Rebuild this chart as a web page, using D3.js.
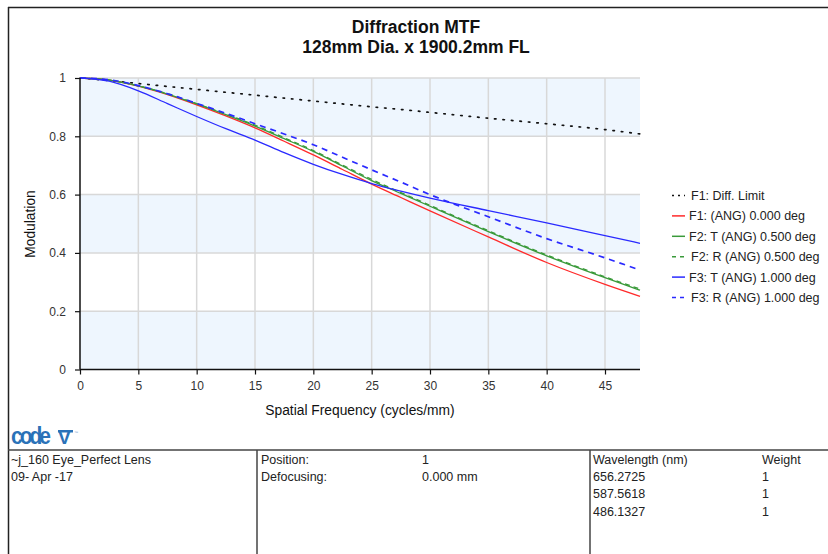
<!DOCTYPE html>
<html>
<head>
<meta charset="utf-8">
<script src="https://cdn.jsdelivr.net/npm/d3@7"></script>
<style>
  body { margin: 0; background: #fff; }
  text { font-family: "Liberation Sans", Arial, sans-serif; }
</style>
</head>
<body>
<svg id="chart" width="828" height="554"></svg>
<script>
// spatial frequency samples (cycles/mm)
var freqs = [0, 2.5, 5, 7.5, 10, 12.5, 15, 17.5, 20, 22.5, 25, 27.5, 30, 35, 40, 45, 48];

// modulation values
var diffLimit = [1, 0.991, 0.981, 0.971, 0.961, 0.951, 0.941, 0.931, 0.921, 0.911, 0.901, 0.892, 0.882, 0.862, 0.843, 0.823, 0.808];
var f1Ang0    = [1, 0.993, 0.972, 0.943, 0.908, 0.870, 0.829, 0.783, 0.736, 0.686, 0.636, 0.590, 0.544, 0.455, 0.367, 0.292, 0.251];
var f2T05     = [1, 0.993, 0.973, 0.945, 0.911, 0.874, 0.835, 0.792, 0.748, 0.698, 0.648, 0.604, 0.560, 0.473, 0.390, 0.315, 0.272];
var f2R05     = [1, 0.993, 0.973, 0.946, 0.912, 0.876, 0.838, 0.795, 0.751, 0.701, 0.652, 0.607, 0.563, 0.476, 0.393, 0.318, 0.276];
var f3T10     = [1, 0.989, 0.956, 0.912, 0.868, 0.826, 0.787, 0.744, 0.704, 0.669, 0.638, 0.612, 0.588, 0.545, 0.503, 0.459, 0.433];
var f3R10     = [1, 0.994, 0.974, 0.946, 0.913, 0.879, 0.843, 0.808, 0.771, 0.728, 0.685, 0.643, 0.600, 0.524, 0.449, 0.383, 0.341];

var seriesNames = ["F1: Diff. Limit", "F1: (ANG) 0.000 deg", "F2: T (ANG) 0.500 deg",
                   "F2: R (ANG) 0.500 deg", "F3: T (ANG) 1.000 deg", "F3: R (ANG) 1.000 deg"];
var seriesValues = [diffLimit, f1Ang0, f2T05, f2R05, f3T10, f3R10];
var seriesColors = ["#111111", "#ff2a2a", "#3a9a3a", "#3a9a3a", "#2a2aff", "#2a2aff"];
var seriesDash = ["1.5,7", null, null, "5,4", null, "6,5"];
var seriesWidth = [1.7, 1.3, 1.3, 1.4, 1.3, 1.7];

var xTicks = [0, 5, 10, 15, 20, 25, 30, 35, 40, 45];
var yTicks = [0, 0.2, 0.4, 0.6, 0.8, 1];

var titleLines = ["Diffraction MTF", "128mm Dia. x 1900.2mm FL"];
var infoLeft = ["~j_160 Eye_Perfect Lens", "09- Apr -17"];
var infoMidLabels = ["Position:", "Defocusing:"];
var infoMidValues = ["1", "0.000 mm"];
var wavelengths = ["656.2725", "587.5618", "486.1327"];
var weights = ["1", "1", "1"];

var svg = d3.select("#chart");

// frame
svg.append("line").attr("x1", 8).attr("x2", 828).attr("y1", 7.5).attr("y2", 7.5)
    .attr("stroke", "#222").attr("stroke-width", 1.5);
svg.append("line").attr("x1", 8.5).attr("x2", 8.5).attr("y1", 7).attr("y2", 554)
    .attr("stroke", "#222").attr("stroke-width", 1.5);

// title
svg.append("g").selectAll("text").data(titleLines).enter().append("text")
    .attr("x", 416).attr("y", function (d, i) { return 33 + i * 20; })
    .attr("text-anchor", "middle").attr("font-size", "17.5px").attr("font-weight", "bold")
    .attr("fill", "#111").text(function (d) { return d; });

// scales
var x = d3.scaleLinear().domain([0, 48]).range([80, 640]);
var y = d3.scaleLinear().domain([0, 1]).range([369.5, 78]);

var plot = svg.append("g");

// alternating bands
var bands = d3.range(0, 1, 0.2);
plot.selectAll(".band").data(bands).enter().append("rect")
    .attr("x", x(0)).attr("width", x(48) - x(0))
    .attr("y", function (d) { return y(d + 0.2); })
    .attr("height", function (d) { return y(d) - y(d + 0.2); })
    .attr("fill", function (d, i) { return i % 2 == 0 ? "#eef6fe" : "#ffffff"; });

// grid
plot.selectAll(".vgrid").data(xTicks.slice(1)).enter().append("line")
    .attr("x1", function (d) { return x(d); }).attr("x2", function (d) { return x(d); })
    .attr("y1", y(0)).attr("y2", y(1))
    .attr("stroke", "#d8d8d8").attr("stroke-width", 1.5);
plot.selectAll(".hgrid").data(yTicks.slice(1)).enter().append("line")
    .attr("x1", x(0)).attr("x2", x(48))
    .attr("y1", function (d) { return y(d); }).attr("y2", function (d) { return y(d); })
    .attr("stroke", "#d8d8d8").attr("stroke-width", 1.5);

// curves
var line = d3.line()
    .x(function (d) { return x(d[0]); })
    .y(function (d) { return y(d[1]); })
    .curve(d3.curveMonotoneX);

seriesValues.forEach(function (vals, k) {
    plot.append("path")
        .datum(freqs.map(function (f, i) { return [f, vals[i]]; }))
        .attr("d", line)
        .attr("fill", "none")
        .attr("stroke", seriesColors[k])
        .attr("stroke-width", seriesWidth[k])
        .attr("stroke-linecap", k == 0 ? "round" : "butt")
        .attr("stroke-dasharray", seriesDash[k]);
});

// axes
var xAxis = d3.axisBottom(x).tickValues(xTicks).tickSize(5).tickFormat(d3.format("d"));
var yAxis = d3.axisLeft(y).tickValues(yTicks).tickSize(5).tickFormat(function (d) { return d; });

var gx = svg.append("g").attr("transform", "translate(0," + y(0) + ")").call(xAxis);
var gy = svg.append("g").attr("transform", "translate(" + x(0) + ",0)").call(yAxis);
[gx, gy].forEach(function (g) {
    g.select(".domain").attr("stroke", "#111").attr("stroke-width", 1.5);
    g.selectAll(".tick line").attr("stroke", "#111").attr("stroke-width", 1.2);
    g.selectAll(".tick text").attr("font-size", "12px").attr("fill", "#333")
        .attr("font-family", "'Liberation Sans', Arial, sans-serif");
});
gx.select(".domain").attr("d", "M" + x(0) + ",0H" + x(48));
gy.select(".domain").attr("d", "M0," + y(0) + "V" + y(1));
gx.selectAll(".tick text").attr("y", 10).attr("dy", "0.9em");
gy.selectAll(".tick text").attr("x", -14);

// axis titles
svg.append("text").attr("x", (x(0) + x(48)) / 2).attr("y", 415)
    .attr("text-anchor", "middle").attr("font-size", "13.8px").attr("fill", "#111")
    .text("Spatial Frequency (cycles/mm)");
svg.append("text").attr("transform", "translate(35,224) rotate(-90)")
    .attr("text-anchor", "middle").attr("font-size", "13.8px").attr("fill", "#111")
    .text("Modulation");

// legend
var legend = svg.append("g").selectAll("g").data(seriesNames).enter().append("g")
    .attr("transform", function (d, i) { return "translate(672," + (195.5 + i * 20.4) + ")"; });
legend.append("line").attr("x1", 0).attr("x2", 13).attr("y1", 0).attr("y2", 0)
    .attr("stroke", function (d, i) { return seriesColors[i]; })
    .attr("stroke-width", 1.5)
    .attr("stroke-dasharray", function (d, i) { return i == 0 ? "2,4" : (seriesDash[i] ? "4,4" : null); });
legend.append("text").attr("x", function (d, i) { return seriesDash[i] ? 19 : 17; })
    .attr("y", 4.5).attr("font-size", "12.5px").attr("fill", "#222")
    .text(function (d) { return d; });

// logo
var logo = svg.append("g").attr("transform", "translate(11,444)");
logo.append("text").attr("font-size", "21px").attr("font-weight", "900")
    .attr("font-family", "'DejaVu Sans', sans-serif")
    .attr("fill", "#2a72b8").attr("letter-spacing", "-3")
    .attr("transform", "scale(1,1.1)")
    .text("code");
logo.append("text").attr("x", 47).attr("font-size", "19px").attr("font-weight", "bold")
    .attr("font-family", "'DejaVu Serif', serif")
    .attr("fill", "#2a72b8").text("V");
logo.append("rect").attr("x", 47).attr("y", -14).attr("width", 15).attr("height", 2.5)
    .attr("fill", "#2a72b8");
logo.append("text").attr("x", 63).attr("y", -10).attr("font-size", "4px")
    .attr("fill", "#7aa6d0").text("™");

// info table
svg.append("line").attr("x1", 8).attr("x2", 828).attr("y1", 450).attr("y2", 450)
    .attr("stroke", "#444").attr("stroke-width", 1.5);
[257, 590].forEach(function (xx) {
    svg.append("line").attr("x1", xx).attr("x2", xx).attr("y1", 450).attr("y2", 554)
        .attr("stroke", "#444").attr("stroke-width", 1.5);
});

var rowY = function (i) { return 464 + i * 17.2; };
var cell = function (arr, xx) {
    svg.append("g").selectAll("text").data(arr).enter().append("text")
        .attr("x", xx).attr("y", function (d, i) { return rowY(i); })
        .attr("font-size", "12.5px").attr("fill", "#222").text(function (d) { return d; });
};
cell(infoLeft, 11);
cell(infoMidLabels, 261);
cell(infoMidValues, 422);
cell(["Wavelength (nm)"].concat(wavelengths), 593);
cell(["Weight"].concat(weights), 762);
</script>
</body>
</html>
